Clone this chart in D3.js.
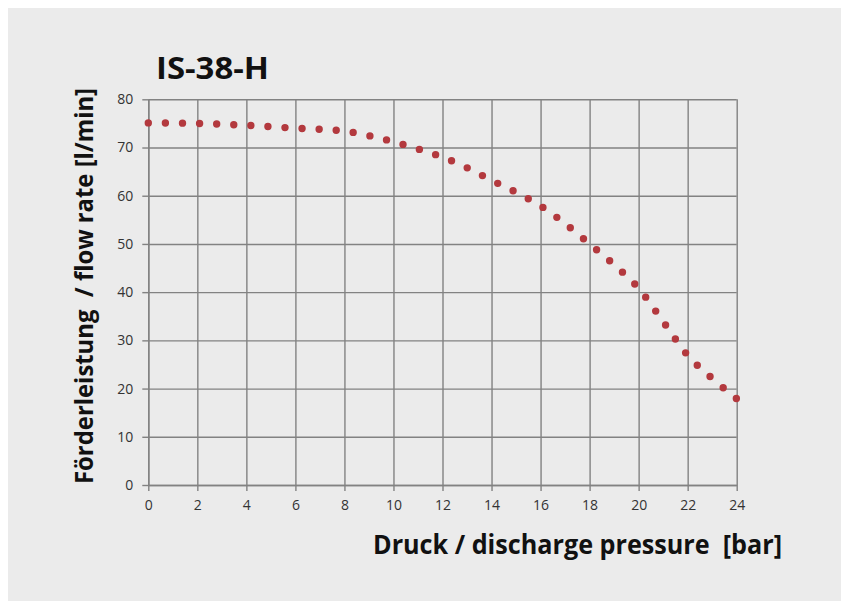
<!DOCTYPE html>
<html>
<head>
<meta charset="utf-8">
<script src="https://cdn.jsdelivr.net/npm/d3@7"></script>
<style>
  html, body { margin: 0; padding: 0; background: #ffffff; }
  .grid line { stroke: #828282; stroke-width: 1.4; }
  .grid path { display: none; }
  .axis path, .axis line { stroke: #828282; stroke-width: 1.4; }
  .axis text { fill: #333333; font-family: "Open Sans", sans-serif; font-size: 14px; }
</style>
</head>
<body>
<div class="pump-chart"></div>
<script>
// pump curve: discharge pressure [bar] vs flow rate [l/min]
var pressure = [0, 2, 4, 6, 8, 9.3, 10, 11, 12, 13, 14, 15, 16, 17, 18, 19, 20, 21, 22, 23, 24];
var flow     = [75.1, 75.0, 74.6, 74.0, 73.4, 72.1, 71.2, 69.7, 68.0, 65.8, 63.2, 60.7, 57.9, 54.2, 50.0, 45.7, 40.8, 33.9, 26.9, 22.1, 17.9];

var xTicks = [0, 2, 4, 6, 8, 10, 12, 14, 16, 18, 20, 22, 24];
var yTicks = [0, 10, 20, 30, 40, 50, 60, 70, 80];

var title = 'IS-38-H';
var xLabel = 'Druck / discharge pressure\u00a0 [bar]';
var yLabel = 'Förderleistung\u00a0 / flow rate [l/min]';

var width = 841,
    height = 601;

// plot box in page pixels
var plot = { left: 148.3, right: 736.7, top: 99.3, bottom: 485 };

var x = d3.scaleLinear().domain([0, 24]).range([plot.left, plot.right]);
var y = d3.scaleLinear().domain([0, 80]).range([plot.bottom, plot.top]);

var data = pressure.map(function(p, i) { return { p: p, q: flow[i] }; });

var svg = d3.select('.pump-chart')
  .append('svg')
    .attr('width', width)
    .attr('height', height);

// grey card with thin white strip at top-left, like the screenshot
svg.append('rect')
  .attr('x', 8)
  .attr('y', 8)
  .attr('width', width - 8)
  .attr('height', height - 8)
  .attr('fill', '#ebebeb');

// grid lines
svg.append('g')
  .attr('class', 'grid')
  .attr('transform', 'translate(0,' + plot.bottom + ')')
  .call(d3.axisBottom(x).tickValues(xTicks).tickSize(-(plot.bottom - plot.top)).tickFormat(''));

svg.append('g')
  .attr('class', 'grid')
  .attr('transform', 'translate(' + plot.left + ',0)')
  .call(d3.axisLeft(y).tickValues(yTicks).tickSize(-(plot.right - plot.left)).tickFormat(''));

// axes with short outside ticks
svg.append('g')
  .attr('class', 'axis')
  .attr('transform', 'translate(0,' + plot.bottom + ')')
  .call(d3.axisBottom(x).tickValues(xTicks).tickSize(6).tickSizeOuter(0).tickPadding(9));

svg.append('g')
  .attr('class', 'axis')
  .attr('transform', 'translate(' + plot.left + ',0)')
  .call(d3.axisLeft(y).tickValues(yTicks).tickSize(6).tickSizeOuter(0).tickPadding(9));

// the curve: smooth line drawn as round dots (excel "round dot" style)
var line = d3.line()
  .x(function(d) { return x(d.p); })
  .y(function(d) { return y(d.q); })
  .curve(d3.curveMonotoneX);

var curve = svg.append('path')
  .datum(data)
  .attr('d', line)
  .attr('fill', 'none')
  .attr('stroke', '#b3393e')
  .attr('stroke-width', 7.4)
  .attr('stroke-linecap', 'round');

// spread the dots so one sits on each end of the curve
// (a hair shorter than exact so rounding doesn't drop the last dot)
var len = curve.node().getTotalLength();
var gap = (len - 0.5) / Math.round(len / 17.2);
curve.attr('stroke-dasharray', '0,' + gap);

// title
svg.append('text')
  .attr('x', 156)
  .attr('y', 79)
  .attr('textLength', 113)
  .attr('lengthAdjust', 'spacingAndGlyphs')
  .style('font-family', '"Open Sans", sans-serif')
  .style('font-weight', 'bold')
  .style('font-size', '31px')
  .style('fill', '#111')
  .text(title);

// x label
svg.append('text')
  .attr('x', 373)
  .attr('y', 554)
  .attr('textLength', 409)
  .attr('lengthAdjust', 'spacingAndGlyphs')
  .style('font-family', '"Open Sans", sans-serif')
  .style('font-weight', 'bold')
  .style('font-size', '26px')
  .style('fill', '#111')
  .text(xLabel);

// y label, rotated
svg.append('text')
  .attr('transform', 'translate(93,484) rotate(-90)')
  .attr('textLength', 396)
  .attr('lengthAdjust', 'spacingAndGlyphs')
  .style('font-family', '"Open Sans", sans-serif')
  .style('font-weight', 'bold')
  .style('font-size', '25px')
  .style('fill', '#111')
  .text(yLabel);
</script>
</body>
</html>
